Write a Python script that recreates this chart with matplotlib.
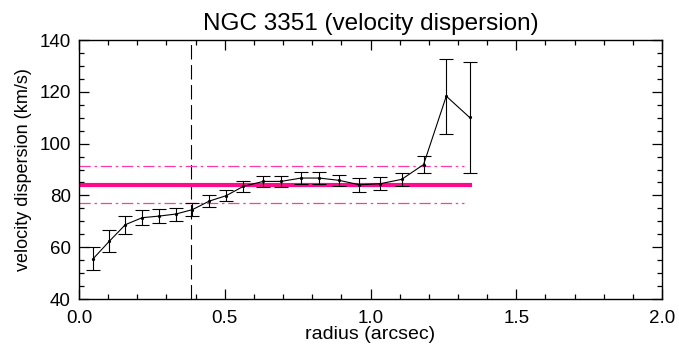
import matplotlib
matplotlib.use("Agg")
import matplotlib.pyplot as plt
from matplotlib.ticker import MultipleLocator, FormatStrFormatter

plt.rcParams['font.family'] = ['Liberation Sans', 'DejaVu Sans']

radius = [0.049, 0.104, 0.159, 0.217, 0.274, 0.332, 0.389, 0.447, 0.505, 0.564,
          0.632, 0.693, 0.762, 0.824, 0.893, 0.962, 1.033, 1.107, 1.182, 1.260, 1.340]
sigma = [55.6, 62.3, 68.7, 71.4, 72.0, 72.8, 74.5, 77.8, 79.9, 83.5,
         85.4, 85.4, 86.7, 86.7, 85.8, 84.1, 84.5, 86.2, 91.9, 118.3, 110.1]
sigma_err = [4.5, 4.2, 3.5, 3.0, 2.6, 2.5, 2.4, 2.2, 2.2, 2.1,
             2.2, 2.2, 2.2, 2.3, 2.2, 2.6, 2.6, 2.6, 3.4, 14.5, 21.5]

mean_sigma = 84.0
upper_sigma = 91.2
lower_sigma = 77.0
line_end = 1.34
dash_end = 1.32
vline_r = 0.383

fig = plt.figure(figsize=(6.79, 3.48), dpi=100)
ax = fig.add_axes([79/679, 1 - 299/348, (662-79)/679, (299-40)/348])

ax.errorbar(radius, sigma, yerr=sigma_err, color='black', lw=0.8, elinewidth=0.8,
            capsize=4.7, capthick=0.8, marker='o', ms=1.3, zorder=3)
ax.plot([0, line_end], [mean_sigma, mean_sigma], color='#ff0a8c', lw=3, zorder=2)
ax.plot([0, dash_end], [upper_sigma, upper_sigma], color='#ff3aa5', lw=0.9,
        dashes=(9, 3, 2, 3), zorder=2)
ax.plot([0, dash_end], [lower_sigma, lower_sigma], color='#ff3aa5', lw=0.9,
        dashes=(9, 3, 2, 3), zorder=2)
ax.axvline(vline_r, color='black', lw=0.8, dashes=(13, 5), zorder=1)

ax.set_xlim(0, 2.0)
ax.set_ylim(40, 140)
ax.xaxis.set_major_locator(MultipleLocator(0.5))
ax.xaxis.set_minor_locator(MultipleLocator(0.1))
ax.yaxis.set_major_locator(MultipleLocator(20))
ax.yaxis.set_minor_locator(MultipleLocator(5))
ax.xaxis.set_major_formatter(FormatStrFormatter('%.1f'))
ax.tick_params(which='both', direction='in', top=True, right=True, labelsize=13.5)
ax.tick_params(axis='x', which='major', pad=8)
ax.tick_params(axis='y', which='major', pad=6)
ax.tick_params(which='major', length=7, width=0.9)
ax.tick_params(which='minor', length=3.5, width=0.9)
for s in ax.spines.values():
    s.set_linewidth(1.0)

ax.set_xlabel('radius (arcsec)', fontsize=14, labelpad=-1)
ax.set_ylabel('velocity dispersion (km/s)', fontsize=13, labelpad=5)
ax.set_title('NGC 3351 (velocity dispersion)', fontsize=17.5, pad=7)

fig.savefig('out.png', dpi=100)
